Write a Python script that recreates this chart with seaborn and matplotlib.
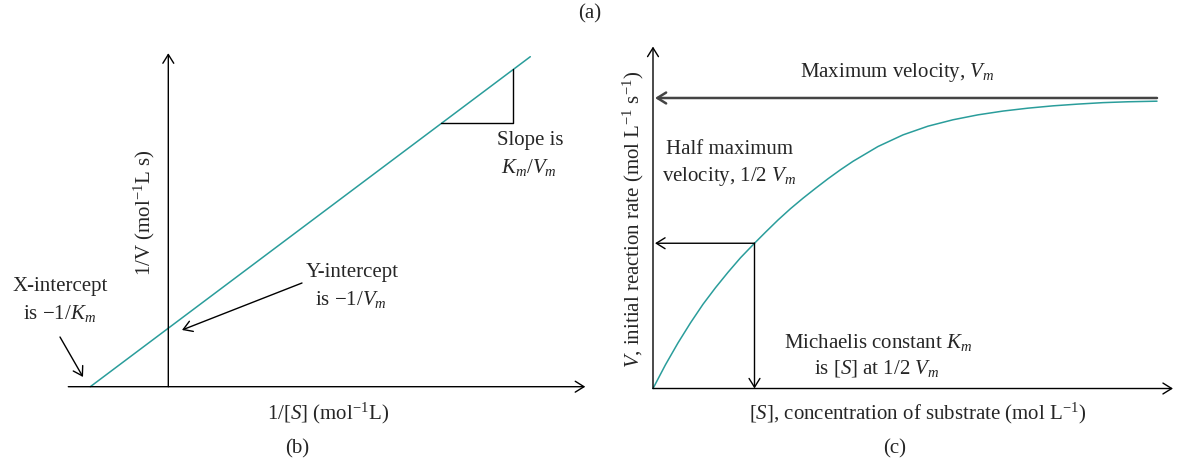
import numpy as np
import matplotlib
matplotlib.use("Agg")
import matplotlib.pyplot as plt
import seaborn as sns

# Panel (b) Lineweaver-Burk line: from the x-intercept up to its top end
lb_x = [-0.78, 3.62]
lb_y = [0.0, 3.30]
slope_tri_x = [2.73, 3.45]          # horizontal leg of the slope triangle

# Panel (c) Michaelis-Menten curve: [S] vs V as a fraction of Vm
mm_s = [0.0, 0.125, 0.25, 0.375, 0.5, 0.625, 0.75, 0.875, 1.015,
        1.125, 1.25, 1.375, 1.5, 1.625, 1.75, 1.875, 2.0,
        2.25, 2.5, 2.75, 3.0, 3.25, 3.5, 3.75, 4.0, 4.25, 4.5, 4.75, 5.04]
mm_v = [0.0, 0.082, 0.157, 0.226, 0.290, 0.347, 0.400, 0.450, 0.500,
        0.538, 0.580, 0.619, 0.655, 0.689, 0.722, 0.753, 0.782,
        0.833, 0.873, 0.903, 0.925, 0.942, 0.955, 0.965, 0.973, 0.979, 0.984, 0.987, 0.989]
km = 1.015
vm = 1.0

TEAL = "#2a9d9b"
W, H = 1178, 465

sns.set_theme(style="white")
plt.rcParams["font.family"] = ["Liberation Serif", "DejaVu Serif"]
plt.rcParams["mathtext.fontset"] = "custom"
plt.rcParams["mathtext.rm"] = "Liberation Serif"
plt.rcParams["mathtext.it"] = "Liberation Serif:italic"
plt.rcParams["mathtext.bf"] = "Liberation Serif:bold"

FS = 15


def arrow(ax, start, tip, lw=1.0, color="black", coords="data"):
    ax.annotate("", xy=tip, xytext=start, xycoords=coords, textcoords=coords,
                arrowprops=dict(arrowstyle="->,head_length=0.45,head_width=0.28",
                                lw=lw, color=color, shrinkA=0, shrinkB=0,
                                mutation_scale=14))


def label(x, y, s, **kw):
    # x, y given in image pixels from the top-left corner
    fig.text(x / W, 1 - y / H, s, ha="center", va="center", fontsize=FS, **kw)


def fpix(x, y):
    return (x, H - y)


fig = plt.figure(figsize=(W / 100, H / 100), dpi=100)

# ---- panel (b) ----
ax_b = fig.add_axes([0, 0, 600 / W, 1])
ax_b.set_xlim(-1.683, 4.317)
ax_b.set_ylim(-0.783, 3.867)
ax_b.axis("off")
arrow(ax_b, (-1.0, 0), (4.17, 0))
arrow(ax_b, (0, 0), (0, 3.335))
sns.lineplot(x=lb_x, y=lb_y, ax=ax_b, color=TEAL, lw=1.1)
tri_y = np.interp(slope_tri_x, lb_x, lb_y)
ax_b.plot([slope_tri_x[0], slope_tri_x[1], slope_tri_x[1]],
          [tri_y[0], tri_y[0], tri_y[1]], color="black", lw=1.0)
arrow(ax_b, fpix(60, 337), fpix(83, 377), coords="figure pixels")
arrow(ax_b, fpix(302, 283), fpix(182, 330), coords="figure pixels")

# ---- panel (c) ----
ax_c = fig.add_axes([600 / W, 0, 578 / W, 1])
ax_c.set_xlim(-0.53, 5.25)
ax_c.set_ylim(-0.2633, 1.3373)
ax_c.axis("off")
arrow(ax_c, (0, 0), (5.2, 0))
arrow(ax_c, (0, 0), (0, 1.177))
sns.lineplot(x=mm_s, y=mm_v, ax=ax_c, color=TEAL, lw=1.1)
arrow(ax_c, (mm_s[-1], vm), (0.02, vm), lw=1.8, color="#444444")
arrow(ax_c, (km, vm / 2), (0.02, vm / 2))
arrow(ax_c, (km, vm / 2), (km, 0.0))

# ---- text ----
label(590, 14, "(a)")
label(144, 213, "1/V (mol$^{-1}$L s)", rotation=90)
label(328, 413, "1/[$S$] (mol$^{-1}$L)")
label(297, 449, "(b)")
label(60, 287, "X-intercept")
label(60, 313, "is −1/$K_m$")
label(352, 272, "Y-intercept")
label(351, 300, "is −1/$V_m$")
label(530, 140, "Slope is")
label(529, 167, "$K_m$/$V_m$")

label(633, 219, "$V$, initial reaction rate (mol L$^{-1}$ s$^{-1}$)", rotation=90)
label(897, 73, "Maximum velocity, $V_m$")
label(730, 150, "Half maximum")
label(729, 176, "velocity, 1/2 $V_m$")
label(878, 342, "Michaelis constant $K_m$")
label(877, 368, "is [$S$] at 1/2 $V_m$")
label(918, 413, "[$S$], concentration of substrate (mol L$^{-1}$)")
label(895, 449, "(c)")

fig.savefig("out.png", dpi=100)
